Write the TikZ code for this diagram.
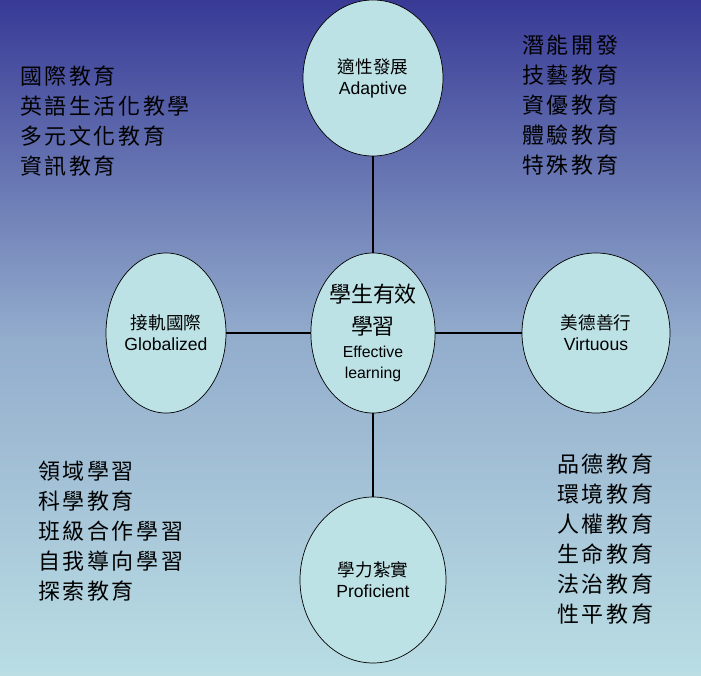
\documentclass[tikz,border=0pt]{standalone}
\usepackage{fontspec}
\setmainfont{Liberation Sans}
\newfontfamily\cjk{Noto Sans CJK TC}
\newfontfamily\cjkwide[LetterSpace=12]{Noto Sans CJK TC}
\usetikzlibrary{shapes.geometric}
\definecolor{topblue}{RGB}{56,58,150}
\definecolor{lowcyan}{RGB}{186,222,228}
\definecolor{ballfill}{RGB}{189,226,230}
\tikzset{
  ball/.style={ellipse,draw=black,fill=ballfill,align=center,font=\fontsize{10}{12}\selectfont,inner sep=0pt},
  lst/.style={anchor=north west,align=left,font=\cjkwide\fontsize{12.5}{17}\selectfont}
}
\begin{document}
\begin{tikzpicture}[x=0.02cm,y=-0.02cm]
\shade[top color=topblue,bottom color=lowcyan,middle color=lowcyan!70!topblue] (0,0) rectangle (701,676);
\useasboundingbox (0,0) rectangle (701,676);
% spokes
\node[ball,minimum width=140*0.02cm,minimum height=156*0.02cm] (adapt) at (373,78) {{\cjk 適性發展}\\Adaptive};
\node[ball,minimum width=120*0.02cm,minimum height=160*0.02cm] (eff) at (373,333) {{\cjk\fontsize{12.5}{15}\selectfont 學生有效}\\[6pt]{\cjk\fontsize{12.5}{15}\selectfont 學習}\\[1pt]{\fontsize{9}{11}\selectfont Effective}\\{\fontsize{9}{11}\selectfont learning}};
\node[ball,minimum width=120*0.02cm,minimum height=160*0.02cm] (glob) at (166,333) {{\cjk 接軌國際}\\Globalized};
\node[ball,minimum width=148*0.02cm,minimum height=160*0.02cm] (virt) at (596,333) {{\cjk 美德善行}\\Virtuous};
\node[ball,minimum width=146*0.02cm,minimum height=166*0.02cm] (prof) at (373,580) {{\cjk 學力紮實}\\Proficient};
\draw[thick] (adapt) -- (eff);
\draw[thick] (glob) -- (eff);
\draw[thick] (eff) -- (virt);
\draw[thick] (eff) -- (prof);
% lists
\node[lst] (glist) at (14,60) {國際教育\\英語生活化教學\\多元文化教育\\資訊教育};
\node[lst] (alist) at (516,29) {潛能開發\\技藝教育\\資優教育\\體驗教育\\特殊教育};
\node[lst] (plist) at (32,455) {領域學習\\科學教育\\班級合作學習\\自我導向學習\\探索教育};
\node[lst] (vlist) at (551,448) {品德教育\\環境教育\\人權教育\\生命教育\\法治教育\\性平教育};
\end{tikzpicture}
\end{document}
